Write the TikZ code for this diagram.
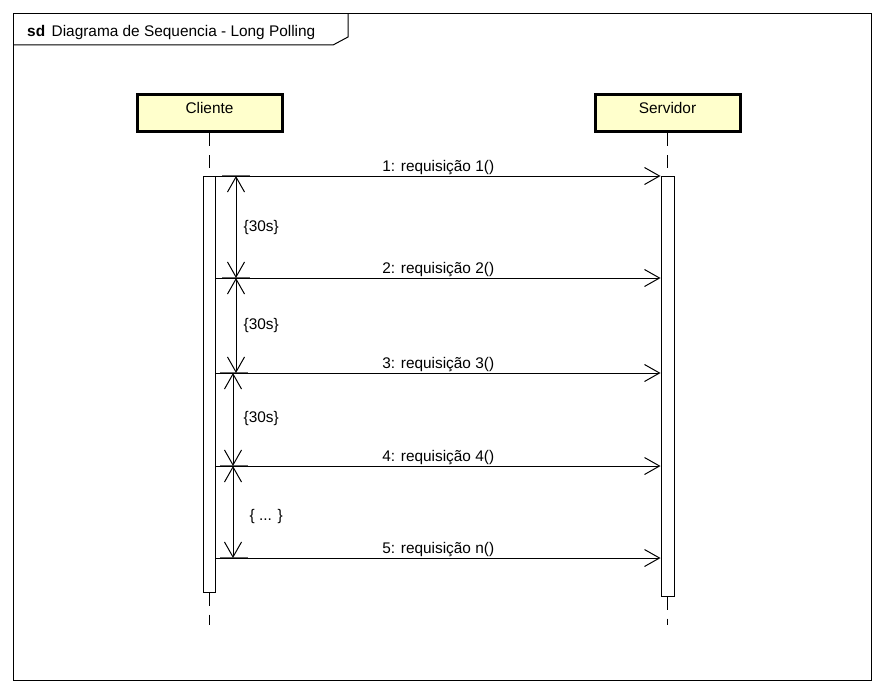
\documentclass[tikz,border=0pt]{standalone}
\usepackage{fontspec}
\setmainfont{Liberation Sans}
\usetikzlibrary{positioning, arrows.meta}

\definecolor{headfill}{HTML}{FFFFCC}

\tikzset{
  head/.style={draw, line width=3pt, fill=headfill, minimum width=145pt, minimum height=37pt,
    text height=11pt, text depth=10pt, inner sep=0pt},
  activation/.style={draw, line width=1pt, fill=white, minimum width=12pt, inner sep=0pt},
  lifeline/.style={line width=1pt, dash pattern=on 13pt off 9pt},
  msg/.style={line width=1pt, -{Straight Barb[length=15pt, width=17pt]}},
  dur/.style={line width=1pt, {Straight Barb[length=15pt, width=17pt]}-{Straight Barb[length=15pt, width=17pt]}},
  durtick/.style={line width=2pt, black!60},
  durlabel/.style={anchor=west, inner sep=0pt},
}

\begin{document}
\begin{tikzpicture}[x=1pt, y=-1pt, font=\fontsize{15.4}{18}\selectfont]
          \useasboundingbox (0,0) rectangle (885,693);

          % frame with its title tab
          \draw[line width=1pt] (13.5,13.5) rectangle (871.5,680);
          \draw[line width=1pt] (13.5,45) -- (333,45) -- (348,37) -- (348,13.5);
          \node (title) [anchor=base west, inner sep=0pt] at (27,36.5)
            {\textbf{sd}\hspace{6.5pt}Diagrama de Sequencia - Long Polling};

          % lifelines
          \begin{scope}
            \node (cliente) [head] at (209.5,113) {Cliente};
            \node (servidor) [head] at (667.5,113) {Servidor};
            \node (actc) [activation, minimum height=416pt] at (209.5,384) {};
            \node (acts) [activation, minimum width=13pt, minimum height=419.5pt] at (667.5,386.25) {};
            \coordinate (endc) at (209.5,625);
            \coordinate (ends) at (667.5,625);
          \end{scope}

          \draw[lifeline] (cliente.south) -- (actc.north);
          \draw[lifeline] (actc.south) -- (endc);
          \draw[lifeline] (servidor.south) -- (acts.north);
          \draw[lifeline] (acts.south) -- (ends);

          % time constraints
          \coordinate (k1) at (236,176);
          \coordinate (k2) at (236,278);
          \coordinate (k3) at (233,373);
          \coordinate (k4) at (233,466);
          \coordinate (k5) at (233,558);

          \draw[durtick] ([xshift=-14pt]k1) -- ([xshift=14pt]k1);
          \draw[durtick] ([xshift=-14pt]k2) -- ([xshift=14pt]k2);
          \draw[durtick] ([xshift=-13pt]k3) -- ([xshift=15pt]k3);
          \draw[durtick] ([xshift=-13pt]k4) -- ([xshift=15pt]k4);
          \draw[durtick] ([xshift=-13pt]k5) -- ([xshift=15pt]k5);

          \draw[dur] (k1) -- (k2);
          \draw[dur] (k2) -- (k2 |- k3);
          \draw[dur] (k3) -- (k4);
          \draw[dur] (k4) -- (k5);

          \node (wait1) [durlabel] at (243.5,228) {\{30s\}};
          \node (wait2) [durlabel] at (243.5,326) {\{30s\}};
          \node (wait3) [durlabel] at (243.5,419) {\{30s\}};
          \node (wait4) [durlabel] at (249.5,517) {\{ ... \}};

          % messages
          \draw[msg] (actc.east |- k1) -- (acts.west |- k1) node (req1) [midway, above, inner sep=1pt] {1: requisição 1()};
          \draw[msg] (actc.east |- k2) -- (acts.west |- k2) node (req2) [midway, above, inner sep=1pt] {2: requisição 2()};
          \draw[msg] (actc.east |- k3) -- (acts.west |- k3) node (req3) [midway, above, inner sep=1pt] {3: requisição 3()};
          \draw[msg] (actc.east |- k4) -- (acts.west |- k4) node (req4) [midway, above, inner sep=1pt] {4: requisição 4()};
          \draw[msg] (actc.east |- k5) -- (acts.west |- k5) node (reqn) [midway, above, inner sep=1pt] {5: requisição n()};
        \end{tikzpicture}
\end{document}
